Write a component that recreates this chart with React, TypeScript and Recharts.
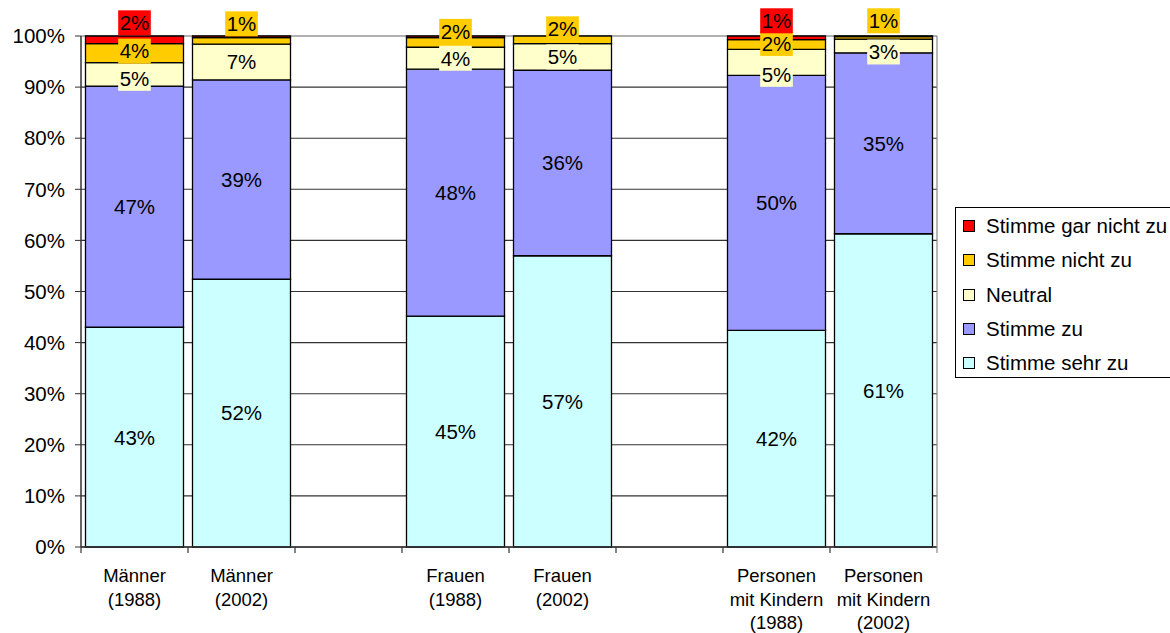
import React from "react";
import { BarChart, Bar, XAxis, YAxis, CartesianGrid, LabelList, Legend } from "recharts";

// categories (blank slots separate the three groups)
const categories = [
  "Männer\n(1988)",
  "Männer\n(2002)",
  " ",
  "Frauen\n(1988)",
  "Frauen\n(2002)",
  "  ",
  "Personen\nmit Kindern\n(1988)",
  "Personen\nmit Kindern\n(2002)",
];

// percentages read from the segment edges
const stimmeSehrZu = [43.0, 52.4, null, 45.2, 57.0, null, 42.4, 61.3];
const stimmeZu = [47.2, 39.0, null, 48.3, 36.3, null, 49.9, 35.4];
const neutral = [4.6, 7.0, null, 4.3, 5.2, null, 5.1, 2.7];
const stimmeNichtZu = [3.7, 1.3, null, 1.9, 1.5, null, 1.9, 0.5];
const stimmeGarNichtZu = [1.5, 0.3, null, 0.3, 0, null, 0.7, 0.1];

const yTicks = [0, 10, 20, 30, 40, 50, 60, 70, 80, 90, 100];

// label nudges in px (negative = up), like the hand-moved labels in the original
const LABEL_NUDGE: Record<string, number[]> = {
  sehrZu: [0, 0, 0, 0, 0, 0, 0, 0],
  zu: [0, 0, 0, 0, 0, 0, 0, 0],
  neutral: [4, 0, 0, 0, 0, 0, 12, 6],
  nichtZu: [-2, -17, 0, -11, -11, 0, -1, -17],
  garNicht: [-17, 0, 0, 0, 0, 0, -17, 0],
};

const series = [
  { key: "sehrZu", name: "Stimme sehr zu", values: stimmeSehrZu, fill: "#CCFFFF" },
  { key: "zu", name: "Stimme zu", values: stimmeZu, fill: "#9999FF" },
  { key: "neutral", name: "Neutral", values: neutral, fill: "#FFFFCC" },
  { key: "nichtZu", name: "Stimme nicht zu", values: stimmeNichtZu, fill: "#FFCC00" },
  { key: "garNicht", name: "Stimme gar nicht zu", values: stimmeGarNichtZu, fill: "#FF0000" },
];

const data = categories.map((cat, i) => {
  const row: Record<string, any> = { cat };
  series.forEach((s) => {
    row[s.key] = s.values[i];
  });
  return row;
});

const W = 1170;
const H = 633;
const MARGIN = { top: 36, right: 233, bottom: 0, left: 0 };
const Y_AXIS_W = 81;
const X_AXIS_H = 86;
const PLOT_LEFT = MARGIN.left + Y_AXIS_W;
const BAND = (W - MARGIN.right - MARGIN.left - Y_AXIS_W) / categories.length;
const FONT = 20.5;

function SegmentLabel(props: any) {
  const { seriesKey, fill, values } = props;
  const vb = props.viewBox || props;
  const x = Number(vb.x);
  const y = Number(vb.y);
  const w = Number(vb.width);
  const h = Number(vb.height);
  const cx = x + w / 2;
  // which category this segment sits in
  const index = Math.floor((cx - PLOT_LEFT) / BAND);
  const v = values[index];
  if (v == null) return null;
  const pct = Math.round(v);
  if (pct === 0) return null;
  const cy = y + h / 2 + (LABEL_NUDGE[seriesKey][index] || 0);
  const text = pct + "%";
  const boxW = ((text.length - 1) * 0.556 + 0.889) * FONT + 3;
  return (
    <g>
      <rect x={cx - boxW / 2} y={cy - 12.5} width={boxW} height={25} fill={fill} />
      <text x={cx} y={cy} dy="0.36em" textAnchor="middle" fontSize={FONT} fill="#000">
        {text}
      </text>
    </g>
  );
}

function CategoryTick(props: any) {
  const { x, y, payload, index } = props;
  const half = payload && payload.offset ? payload.offset : BAND / 2;
  const lines = String(payload.value)
    .split("\n")
    .filter((s) => s.trim() !== "");
  const last = index === categories.length - 1;
  return (
    <g>
      <line x1={x - half} x2={x - half} y1={y} y2={y + 6} stroke="#333" strokeWidth={1.2} />
      {last && <line x1={x + half} x2={x + half} y1={y - 511} y2={y + 6} stroke="#888" strokeWidth={1.2} />}
      <text x={x} y={y} textAnchor="middle" fontSize={18.5} fill="#000">
        {lines.map((l, i) => (
          <tspan key={i} x={x} y={y + 35 + i * 23.5}>
            {l}
          </tspan>
        ))}
      </text>
    </g>
  );
}

function GridLine(props: any) {
  const { x1, x2, y1, y2 } = props;
  const top = Math.abs(y1 - MARGIN.top) < 1;
  return <line x1={x1} x2={x2} y1={y1} y2={y2} stroke={top ? "#999" : "#333"} strokeWidth={top ? 1.5 : 1.1} />;
}

function LegendBox() {
  const rows = [...series].reverse();
  return (
    <div
      style={{
        border: "1px solid #000",
        background: "#fff",
        width: 260,
        height: 171,
        boxSizing: "border-box",
        paddingTop: 1,
      }}
    >
      {rows.map((s) => (
        <div
          key={s.key}
          style={{ height: 34.3, display: "flex", alignItems: "center", fontSize: FONT, color: "#000" }}
        >
          <span
            style={{
              display: "inline-block",
              width: 10,
              height: 10,
              background: s.fill,
              border: "1px solid #000",
              marginLeft: 7,
              marginRight: 11,
            }}
          />
          <span style={{ whiteSpace: "nowrap" }}>{s.name}</span>
        </div>
      ))}
    </div>
  );
}

export default function App() {
  return (
    <div
      style={{
        position: "fixed",
        left: 0,
        top: 0,
        width: W,
        height: H,
        overflow: "hidden",
        background: "#fff",
        fontFamily: "'Liberation Sans', Arial, sans-serif",
      }}
    >
      <BarChart width={W} height={H} data={data} margin={MARGIN} barCategoryGap={4.5}>
        <CartesianGrid vertical={false} horizontal={(p: any) => <GridLine {...p} />} />
        <XAxis
          dataKey="cat"
          interval={0}
          height={X_AXIS_H}
          tickLine={false}
          tickSize={0}
          tickMargin={0}
          axisLine={{ stroke: "#333", strokeWidth: 1.5 }}
          tick={(p: any) => <CategoryTick {...p} />}
        />
        <YAxis
          width={Y_AXIS_W}
          domain={[0, 100]}
          ticks={yTicks}
          interval={0}
          tickFormatter={(v: number) => v + "%"}
          tick={{ fontSize: FONT, fill: "#000" }}
          tickSize={6}
          tickMargin={10}
          axisLine={{ stroke: "#333", strokeWidth: 1.5 }}
          tickLine={{ stroke: "#333" }}
        />
        <Legend
          layout="horizontal"
          verticalAlign="middle"
          align="center"
          content={() => <LegendBox />}
          wrapperStyle={{ left: 955, top: 207, width: 260, height: 171 }}
        />
        {series.map((s) => (
          <Bar
            key={s.key}
            dataKey={s.key}
            name={s.name}
            stackId="a"
            fill={s.fill}
            stroke="#000"
            strokeWidth={1.3}
            isAnimationActive={false}
          >
            <LabelList
              dataKey={s.key}
              content={(p: any) => (
                <SegmentLabel {...p} seriesKey={s.key} fill={s.fill} values={s.values} />
              )}
            />
          </Bar>
        ))}
      </BarChart>
    </div>
  );
}
